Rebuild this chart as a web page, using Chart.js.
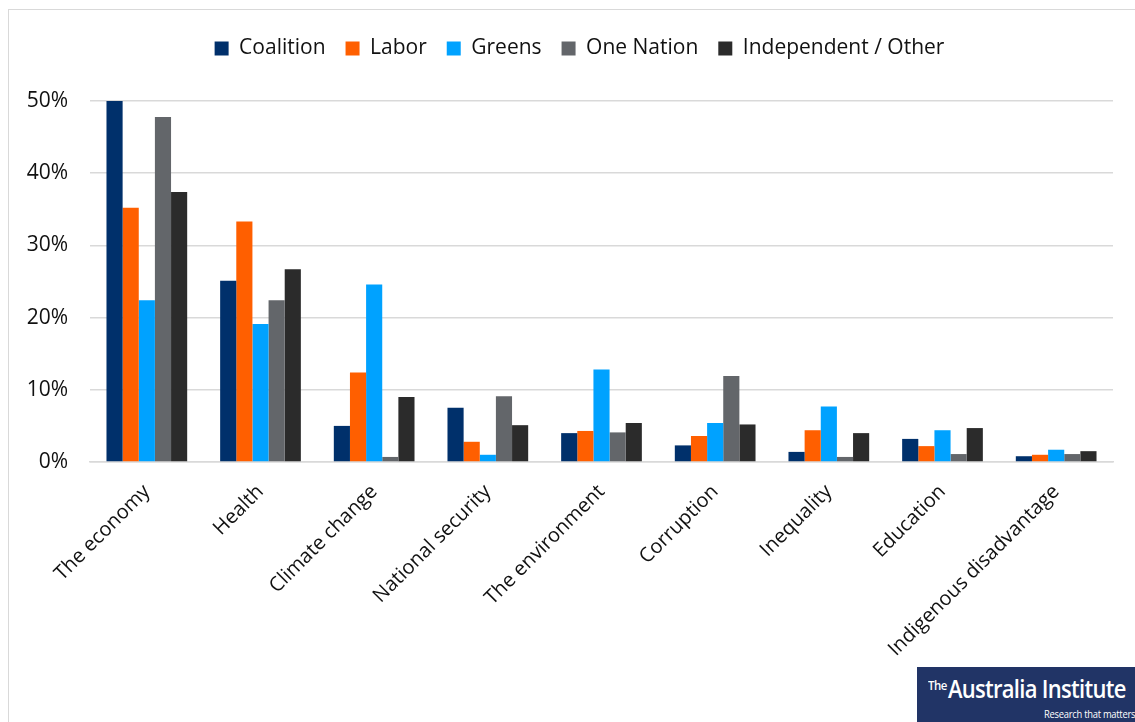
<!DOCTYPE html>
<html>
<head>
<meta charset="utf-8">
<script src="https://cdn.jsdelivr.net/npm/chart.js@4"></script>
<style>
  html,body{margin:0;padding:0;background:#fff;}
  #wrap{position:relative;width:1135px;height:722px;overflow:hidden;}
  #frame{position:absolute;left:8px;top:9px;width:1140px;height:730px;border:1.5px solid #d9d9d9;box-sizing:border-box;}
  #chart{position:absolute;left:0;top:0;}
  #logo{position:absolute;left:917px;top:667px;width:218px;height:55px;background:#213466;color:#fff;font-family:"Open Sans",sans-serif;overflow:hidden;}
  #logo .name{position:absolute;left:11px;top:4px;font-size:25px;font-weight:600;letter-spacing:-0.8px;white-space:nowrap;transform:scaleX(0.88);transform-origin:left top;}
  #logo .name sup{font-size:13px;letter-spacing:-0.5px;vertical-align:8px;margin-right:1px;}
  #logo .tag{position:absolute;right:0px;bottom:1px;font-size:11px;letter-spacing:-0.3px;white-space:nowrap;transform:scaleX(0.85);transform-origin:right bottom;}
</style>
</head>
<body>
<div id="wrap">
  <div id="frame"></div>
  <canvas id="chart" width="1135" height="722"></canvas>
  <div id="logo"><span class="name"><sup>The</sup>Australia Institute</span><span class="tag">Research that matters</span></div>
</div>
<script>
const categories=["The economy","Health","Climate change","National security","The environment","Corruption","Inequality","Education","Indigenous disadvantage"];
const coalition=[50.0,25.1,5.0,7.5,4.0,2.3,1.4,3.2,0.8];
const labor=[35.2,33.3,12.4,2.8,4.3,3.6,4.4,2.2,1.0];
const greens=[22.4,19.1,24.6,1.0,12.8,5.4,7.7,4.4,1.7];
const oneNation=[47.8,22.4,0.7,9.1,4.1,11.9,0.7,1.1,1.1];
const independent=[37.4,26.7,9.0,5.1,5.4,5.2,4.0,4.7,1.5];
const yTicks=[0,10,20,30,40,50];

const font="'Open Sans', sans-serif";

function ds(label,data,color){
  return {label:label,data:data,backgroundColor:color,borderWidth:0,categoryPercentage:0.71,barPercentage:1.0};
}

// extra space under the legend, and nudge it right a little
const legendMargin={
  id:"legendMargin",
  beforeInit(chart){
    const fit=chart.legend.fit;
    chart.legend.fit=function(){ fit.bind(chart.legend)(); this.height+=32; };
  },
  afterLayout(chart){
    chart.legend.left+=23;
    chart.legend.right+=23;
  }
};

new Chart(document.getElementById("chart"),{
  type:"bar",
  data:{
    labels:categories,
    datasets:[
      ds("Coalition",coalition,"#00306b"),
      ds("Labor",labor,"#ff5f00"),
      ds("Greens",greens,"#00a2ff"),
      ds("One Nation",oneNation,"#63666a"),
      ds("Independent / Other",independent,"#2b2b2b")
    ]
  },
  plugins:[legendMargin],
  options:{
    responsive:false,
    animation:false,
    layout:{padding:{top:18,right:22,left:0,bottom:0}},
    plugins:{
      legend:{
        position:"top",
        labels:{font:{family:font,size:21},color:"#111",boxWidth:14,boxHeight:14,padding:20}
      },
      tooltip:{enabled:false}
    },
    scales:{
      x:{
        grid:{display:false},
        border:{color:"#d9d9d9",width:1.5},
        ticks:{font:{family:font,size:20},color:"#111",maxRotation:45,minRotation:45,padding:10},
        afterFit:function(s){ s.height=260; }
      },
      y:{
        min:0,max:50,
        afterBuildTicks:function(s){ s.ticks=yTicks.map(v=>({value:v})); },
        grid:{color:"#d9d9d9",lineWidth:1.5,drawTicks:false},
        border:{display:false},
        ticks:{font:{family:font,size:21},color:"#111",padding:22,callback:v=>v+"%"},
        afterFit:function(s){ s.width=90; }
      }
    }
  }
});
</script>
</body>
</html>
